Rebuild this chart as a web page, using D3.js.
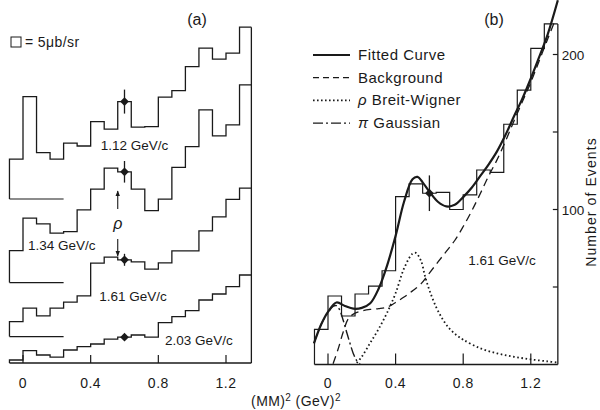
<!DOCTYPE html>
<html>
<head>
<meta charset="utf-8">
<script src="https://cdn.jsdelivr.net/npm/d3@7/dist/d3.min.js"></script>
<style>
    html, body { margin: 0; padding: 0; background: #fff; }
    svg text { font-family: "Liberation Sans", Arial, sans-serif; fill: #1a1a1a; }
</style>
</head>
<body>
<svg id="chart" width="600" height="410"></svg>
<script>
(function() {
    'use strict';

    // 共用的分箱左边界 (MM)^2，宽 0.08
    var binEdges = [-0.08, 0, 0.08, 0.16, 0.24, 0.32, 0.40, 0.48, 0.56, 0.64, 0.72, 0.80, 0.88, 0.96, 1.04, 1.12, 1.20, 1.28];
    var binWidth = 0.08;
    var xTicks = [0, 0.4, 0.8, 1.2];

    // (a) 四个动量下的截面 (ub/sr)，以及堆叠偏移
    var momenta = ['1.12 GeV/c', '1.34 GeV/c', '1.61 GeV/c', '2.03 GeV/c'];
    var offsetsA = [82, 40.2, 13.2, 0];
    var hist112 = [19.9, 51.2, 23.2, 19.9, 27.9, 26.5, 38.7, 34.9, 48.7, 35.9, 36.2, 50.9, 54.2, 66.2, 75.4, 69.9, 72.9, 85.9];
    var hist134 = [16, 32.2, 29.4, 24.7, 25.5, 36.4, 46.7, 57.2, 55.4, 46.7, 36, 41.7, 57.6, 68, 86.4, 73.4, 78.9, 98.9];
    var hist161 = [7.5, 14.2, 10.4, 14.2, 17.2, 20.4, 36.7, 39.7, 38.4, 37.4, 33.7, 36.9, 42.9, 42.9, 52.9, 59.9, 68.6, 74.2];
    var hist203 = [1.5, 6.2, 4, 2.9, 6.5, 8.2, 9.5, 11.9, 12.9, 14, 12.9, 20.2, 23.2, 26.2, 31.5, 34.5, 38.2, 44];
    var errA = [6, 5.4, 3, 0];
    var markBin = 8;      // rho 点所在的分箱
    var markX = 0.6;

    // (b) 1.61 GeV/c 事例数
    var histB = [22.7, 44.2, 31.3, 45.5, 50.6, 60.5, 108.3, 116.5, 110.5, 111, 100, 109.5, 125.5, 124, 155, 177, 204, 219.7];
    var errB = 11.5;
    var yTicksB = [50, 100, 150, 200];
    var yLabelsB = [100, 200];

    // (b) 拟合曲线及各分量，读自原图
    var fitX = [-0.083, -0.04, 0, 0.05, 0.1, 0.15, 0.2, 0.25, 0.3, 0.35, 0.4, 0.45, 0.5, 0.53, 0.56, 0.6, 0.65, 0.7, 0.75, 0.8, 0.85, 0.9, 0.95, 1.0, 1.05, 1.1, 1.15, 1.2, 1.25, 1.3, 1.36];
    var fitY = [13.7, 26, 34, 40, 37.8, 36, 36.5, 39.5, 49, 64, 83, 105, 119.5, 121, 117.5, 111.5, 105, 102, 103, 108, 114, 121.5, 129, 137.5, 148, 160, 171.5, 184.5, 198.5, 213, 235];
    var bgX = [0.03, 0.06, 0.09, 0.12, 0.15, 0.2, 0.25, 0.3, 0.35, 0.4, 0.45, 0.5, 0.55, 0.6, 0.65, 0.7, 0.75, 0.8, 0.85, 0.9, 0.95, 1.0, 1.05, 1.1, 1.15, 1.2, 1.25, 1.3, 1.34];
    var bgY = [0.5, 10, 21, 29.5, 32.5, 34.5, 35.5, 36, 37, 40, 43.5, 47.5, 52, 59, 66, 73, 80, 89, 99, 110, 121.5, 132, 144, 157, 169.5, 182, 196, 210, 221];
    var bwX = [0.17, 0.2, 0.25, 0.3, 0.35, 0.4, 0.45, 0.5, 0.52, 0.55, 0.574, 0.6, 0.64, 0.68, 0.72, 0.76, 0.8, 0.9, 1.0, 1.1, 1.2, 1.3, 1.36];
    var bwY = [1, 5, 14, 23, 33.5, 46, 62, 71.5, 72, 67, 57, 48, 37, 29, 23, 19, 16, 10.5, 7.2, 5, 3.3, 2, 1.2];
    var gaussX = [-0.083, -0.04, 0, 0.03, 0.05, 0.07, 0.09, 0.11, 0.13, 0.15, 0.17, 0.19];
    var gaussY = [13.7, 26, 33.5, 37.5, 38, 35, 28.5, 21, 13.7, 7, 2.5, 0.5];

    var legendLabels = ['Fitted Curve', 'Background', 'Breit-Wigner', 'Gaussian'];
    var legendSymbols = ['', '', 'ρ', 'π'];

    var ink = '#1a1a1a';
    var svg = d3.select('#chart');

    // 比例尺
    var xa = d3.scaleLinear().domain([0, 1.2]).range([23, 226]);
    var ya = d3.scaleLinear().domain([0, 170]).range([363, 23]);
    var xb = d3.scaleLinear().domain([0, 1.2]).range([328, 530.8]);
    var yb = d3.scaleLinear().domain([0, 200]).range([364.5, 54.5]);

    var xMaxA = 1.35, xMaxB = 1.36;

    // 阶梯直方图
    function stepPath(x, y, vals, base, xMax) {
        var pts = [[binEdges[0], base]];
        vals.forEach(function(v, i) {
            pts.push([binEdges[i], base + v]);
            pts.push([Math.min(binEdges[i] + binWidth, xMax), base + v]);
        });
        return d3.line().x(function(d) { return x(d[0]); }).y(function(d) { return y(d[1]); })(pts);
    }

    function diamond(g, cx, cy) {
        g.append('path')
            .attr('d', d3.symbol().type(d3.symbolSquare).size(38)())
            .attr('transform', 'translate(' + cx + ',' + cy + ') rotate(45)')
            .attr('fill', ink);
    }

    // ---------- (a) ----------
    var ga = svg.append('g');
    var histsA = [hist112, hist134, hist161, hist203];

    histsA.forEach(function(vals, k) {
        var base = offsetsA[k];
        ga.append('path')
            .attr('d', stepPath(xa, ya, vals, base, xMaxA))
            .attr('fill', 'none').attr('stroke', ink).attr('stroke-width', 1.3);
        // 零线
        if (base > 0) {
            ga.append('line')
                .attr('x1', xa(binEdges[0])).attr('x2', xa(0.24))
                .attr('y1', ya(base)).attr('y2', ya(base))
                .attr('stroke', ink).attr('stroke-width', 1.2);
        }
        var py = ya(base + vals[markBin]);
        if (errA[k] > 0) {
            ga.append('line')
                .attr('x1', xa(markX)).attr('x2', xa(markX))
                .attr('y1', ya(base + vals[markBin] + errA[k]))
                .attr('y2', ya(base + vals[markBin] - errA[k]))
                .attr('stroke', ink).attr('stroke-width', 1.3);
        }
        diamond(ga, xa(markX), py);
    });

    // 框线
    ga.append('line')
        .attr('x1', xa(binEdges[0])).attr('x2', xa(xMaxA))
        .attr('y1', ya(0)).attr('y2', ya(0))
        .attr('stroke', ink).attr('stroke-width', 1.3);
    ga.append('line')
        .attr('x1', xa(xMaxA)).attr('x2', xa(xMaxA))
        .attr('y1', ya(0)).attr('y2', ya(offsetsA[0] + hist112[hist112.length - 1]))
        .attr('stroke', ink).attr('stroke-width', 1.3);

    ga.selectAll('line.tick').data(xTicks).enter().append('line')
        .attr('x1', function(d) { return xa(d); }).attr('x2', function(d) { return xa(d); })
        .attr('y1', ya(0)).attr('y2', ya(0) - 8)
        .attr('stroke', ink).attr('stroke-width', 1.2);
    ga.selectAll('text.tl').data(xTicks).enter().append('text')
        .attr('x', function(d) { return xa(d); }).attr('y', 388)
        .attr('text-anchor', 'middle').attr('font-size', 14).attr('letter-spacing', 0.5)
        .text(function(d) { return d === 0 ? '0' : d3.format('.1f')(d); });

    // 标注
    var labelPosA = [[0.46, 150], [0.03, 250], [0.45, 301], [0.84, 345]];
    momenta.forEach(function(m, k) {
        ga.append('text')
            .attr('x', xa(labelPosA[k][0])).attr('y', labelPosA[k][1])
            .attr('font-size', 13.5).text(m);
    });

    ga.append('text').attr('x', 197).attr('y', 25).attr('text-anchor', 'middle')
        .attr('font-size', 16).text('(a)');
    ga.append('rect').attr('x', 11).attr('y', 37).attr('width', 10).attr('height', 10)
        .attr('fill', 'none').attr('stroke', ink).attr('stroke-width', 1);
    ga.append('text').attr('x', 25).attr('y', 47).attr('font-size', 14)
        .attr('letter-spacing', 0.4).text('= 5μb/sr');

    // rho 箭头
    var ax = xa(0.56);
    var arrowDefs = svg.append('defs');
    arrowDefs.append('marker').attr('id', 'ah').attr('viewBox', '0 0 10 10')
        .attr('refX', 9).attr('refY', 5).attr('markerWidth', 5).attr('markerHeight', 7)
        .attr('orient', 'auto')
        .append('path').attr('d', 'M0,1 L10,5 L0,9 Z').attr('fill', ink);
    ga.append('line').attr('x1', ax).attr('x2', ax).attr('y1', ya(77)).attr('y2', ya(86))
        .attr('stroke', ink).attr('stroke-width', 1.1).attr('marker-end', 'url(#ah)');
    ga.append('line').attr('x1', ax).attr('x2', ax).attr('y1', ya(62)).attr('y2', ya(53.5))
        .attr('stroke', ink).attr('stroke-width', 1.1).attr('marker-end', 'url(#ah)');
    ga.append('text').attr('x', ax).attr('y', ya(67)).attr('text-anchor', 'middle')
        .attr('font-size', 16).attr('font-style', 'italic').text('ρ');

    // ---------- (b) ----------
    var gb = svg.append('g');

    gb.append('path')
        .attr('d', stepPath(xb, yb, histB, 0, xMaxB))
        .attr('fill', 'none').attr('stroke', ink).attr('stroke-width', 1.2);

    var curve = d3.line()
        .x(function(d) { return xb(d[0]); })
        .y(function(d) { return yb(d[1]); })
        .curve(d3.curveCatmullRom.alpha(0.5));

    function zipPts(xs, ys) { return xs.map(function(x, i) { return [x, ys[i]]; }); }

    gb.append('path').attr('d', curve(zipPts(bgX, bgY)))
        .attr('fill', 'none').attr('stroke', ink).attr('stroke-width', 1.3)
        .attr('stroke-dasharray', '8,5');
    gb.append('path').attr('d', curve(zipPts(bwX, bwY)))
        .attr('fill', 'none').attr('stroke', ink).attr('stroke-width', 1.8)
        .attr('stroke-dasharray', '1.6,2.6');
    gb.append('path').attr('d', curve(zipPts(gaussX, gaussY)))
        .attr('fill', 'none').attr('stroke', ink).attr('stroke-width', 1.4)
        .attr('stroke-dasharray', '10,3,2,3');
    gb.append('path').attr('d', curve(zipPts(fitX, fitY)))
        .attr('fill', 'none').attr('stroke', ink).attr('stroke-width', 2.2);

    // 误差棒
    gb.append('line')
        .attr('x1', xb(markX)).attr('x2', xb(markX))
        .attr('y1', yb(histB[markBin] + errB)).attr('y2', yb(histB[markBin] - errB))
        .attr('stroke', ink).attr('stroke-width', 1.3);
    diamond(gb, xb(markX), yb(histB[markBin]));

    // 坐标轴
    gb.append('line')
        .attr('x1', xb(binEdges[0])).attr('x2', xb(xMaxB))
        .attr('y1', yb(0)).attr('y2', yb(0))
        .attr('stroke', ink).attr('stroke-width', 1.3);
    gb.append('line')
        .attr('x1', xb(xMaxB)).attr('x2', xb(xMaxB))
        .attr('y1', yb(0)).attr('y2', yb(histB[histB.length - 1]))
        .attr('stroke', ink).attr('stroke-width', 1.3);

    gb.selectAll('line.xt').data(xTicks).enter().append('line')
        .attr('x1', function(d) { return xb(d); }).attr('x2', function(d) { return xb(d); })
        .attr('y1', yb(0)).attr('y2', yb(0) - 11)
        .attr('stroke', ink).attr('stroke-width', 1.2);
    gb.selectAll('text.xl').data(xTicks).enter().append('text')
        .attr('x', function(d) { return xb(d); }).attr('y', 388)
        .attr('text-anchor', 'middle').attr('font-size', 14).attr('letter-spacing', 0.5)
        .text(function(d) { return d === 0 ? '0' : d3.format('.1f')(d); });

    gb.selectAll('line.yt').data(yTicksB).enter().append('line')
        .attr('x1', xb(xMaxB)).attr('x2', xb(xMaxB) - 5)
        .attr('y1', function(d) { return yb(d); }).attr('y2', function(d) { return yb(d); })
        .attr('stroke', ink).attr('stroke-width', 1.2);
    gb.selectAll('text.yl').data(yLabelsB).enter().append('text')
        .attr('x', xb(xMaxB) + 4).attr('y', function(d) { return yb(d) + 5; })
        .attr('font-size', 13.5).text(function(d) { return d; });

    gb.append('text')
        .attr('transform', 'translate(596,202) rotate(-90)')
        .attr('text-anchor', 'middle').attr('font-size', 14).attr('letter-spacing', 1.1)
        .text('Number of Events');

    gb.append('text').attr('x', 494).attr('y', 25).attr('text-anchor', 'middle')
        .attr('font-size', 16).text('(b)');
    gb.append('text').attr('x', xb(0.83)).attr('y', 265).attr('font-size', 13.5).text('1.61 GeV/c');

    // 图例
    var dashes = [null, '6,4', '1.6,2.4', '10,3,2,3'];
    var widths = [2, 1.3, 1.8, 1.4];
    legendLabels.forEach(function(lab, i) {
        var ly = 55 + i * 22.7;
        gb.append('line').attr('x1', 313).attr('x2', 350).attr('y1', ly).attr('y2', ly)
            .attr('stroke', ink).attr('stroke-width', widths[i])
            .attr('stroke-dasharray', dashes[i]);
        var t = gb.append('text').attr('x', 358).attr('y', ly + 5)
            .attr('font-size', 15).attr('letter-spacing', 0.5);
        if (legendSymbols[i]) {
            t.append('tspan').attr('font-style', 'italic').text(legendSymbols[i] + ' ');
        }
        t.append('tspan').text(lab);
    });

    // 公共 x 轴标题
    var xt = svg.append('text').attr('x', 296).attr('y', 406)
        .attr('text-anchor', 'middle').attr('font-size', 14).attr('letter-spacing', 0.4);
    xt.append('tspan').text('(MM)');
    xt.append('tspan').attr('dy', -5).attr('font-size', 10).text('2');
    xt.append('tspan').attr('dy', 5).text(' (GeV)');
    xt.append('tspan').attr('dy', -5).attr('font-size', 10).text('2');
})();
</script>
</body>
</html>
